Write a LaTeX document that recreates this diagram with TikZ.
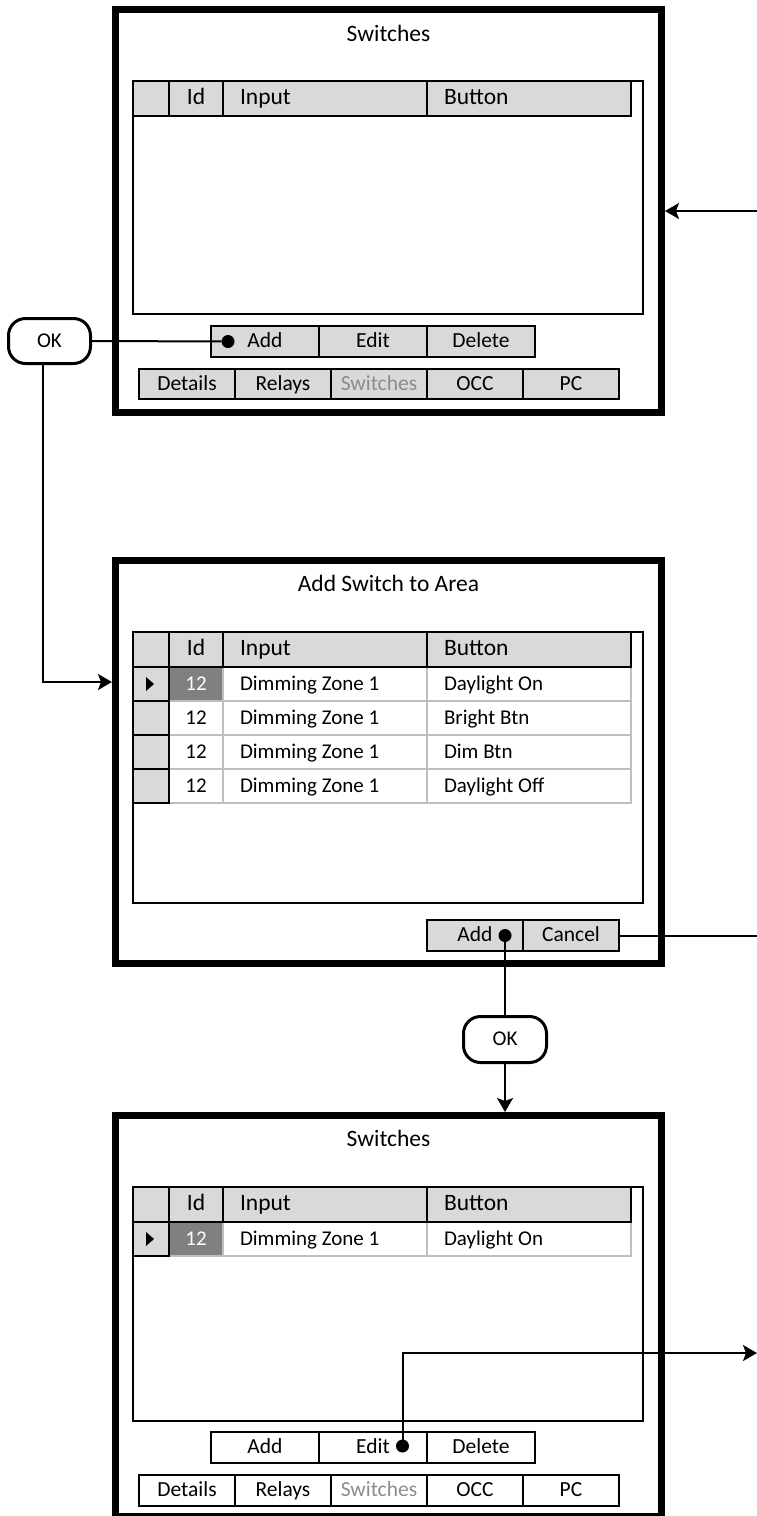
\documentclass[tikz,border=0pt]{standalone}
\usepackage{fontspec}
\setmainfont{Carlito}
\usetikzlibrary{arrows.meta,calc}
\definecolor{hdrgrey}{RGB}{217,217,217}
\definecolor{rowline}{RGB}{191,191,191}
\definecolor{selgrey}{RGB}{128,128,128}
\definecolor{offtext}{RGB}{140,140,140}

% name, x1, y1, x2, y2, style, text
\newcommand{\uirect}[7]{\node[#6, minimum width={(#4)-(#2)}, minimum height={(#5)-(#3)}] (#1) at ({((#2)+(#4))/2},{((#3)+(#5))/2}) {#7};}

\newcommand{\thead}[2]{%
 \uirect{#1h0}{133}{#2}{169}{(#2)+35}{hdr}{}
 \uirect{#1h1}{169}{#2}{223}{(#2)+35}{hdr}{Id}
 \uirect{#1h2}{223}{#2}{427}{(#2)+35}{hdr}{}
 \uirect{#1h3}{427}{#2}{631}{(#2)+35}{hdr}{}
 \node[txt,hdrfont] (#1h2t) at ([xshift=17pt]#1h2.west) {Input};
 \node[txt,hdrfont] (#1h3t) at ([xshift=17pt]#1h3.west) {Button};}

% prefix, ytop, idstyle, input, button
\newcommand{\trow}[5]{%
 \uirect{#1i}{169}{#2}{223}{(#2)+34}{#3}{12}
 \uirect{#1n}{223}{#2}{427}{(#2)+34}{cell}{}
 \uirect{#1b}{427}{#2}{631}{(#2)+34}{cell}{}
 \uirect{#1s}{133}{#2}{169}{(#2)+34}{sel}{}
 \node[txt,datafont] (#1nt) at ([xshift=17pt]#1n.west) {#4};
 \node[txt,datafont] (#1bt) at ([xshift=17pt]#1b.west) {#5};}

\tikzset{
 x=1pt, y=-1pt,
 base/.style={inner sep=0pt, outer sep=0pt, text height=16pt, text depth=4pt},
 frame/.style={base, draw, line width=7pt, outer sep=3.5pt},
 tabframe/.style={base, draw, line width=1.6pt},
 hdrfont/.style={font=\fontsize{23.5}{27}\selectfont},
 datafont/.style={font=\fontsize{21}{25}\selectfont},
 hdr/.style={base, draw, fill=hdrgrey, line width=1.8pt, hdrfont},
 sel/.style={base, draw, fill=hdrgrey, line width=1.8pt},
 cell/.style={base, draw=rowline, fill=white, line width=1.4pt, datafont},
 selcell/.style={cell, fill=selgrey, text=white},
 txt/.style={base, anchor=west},
 btn/.style={base, draw, fill=hdrgrey, line width=1.8pt, font=\fontsize{21.5}{25}\selectfont},
 wbtn/.style={btn, fill=white},
 offbtn/.style={btn, text=offtext},
 woffbtn/.style={wbtn, text=offtext},
 title/.style={base, font=\fontsize{23.5}{28}\selectfont},
 okbox/.style={base, draw, line width=3pt, outer sep=1.5pt, rounded corners=17pt, font=\fontsize{21}{25}\selectfont},
 dot/.style={circle, fill, inner sep=0pt, outer sep=0pt, minimum size=13pt},
 conn/.style={line width=2pt},
 arr/.style={conn, -{Stealth[length=14pt,width=16pt,inset=3pt]}},
}

\begin{document}
\begin{tikzpicture}
\useasboundingbox (0,0) rectangle (757,1516);

% ---------- Frame 1 ----------
\uirect{f1}{115.5}{9.5}{661.5}{412.5}{frame}{}
\node[title] (f1title) at (388.5,35) {Switches};
\uirect{f1tab}{133}{81}{643}{314}{tabframe}{}
\thead{f1}{81}
\uirect{f1add}{211}{326}{319}{357}{btn}{Add}
\uirect{f1edit}{319}{326}{427}{357}{btn}{Edit}
\uirect{f1del}{427}{326}{535}{357}{btn}{Delete}
\uirect{f1t1}{139}{369}{235}{399}{btn}{Details}
\uirect{f1t2}{235}{369}{331}{399}{btn}{Relays}
\uirect{f1t3}{331}{369}{427}{399}{offbtn}{Switches}
\uirect{f1t4}{427}{369}{523}{399}{btn}{OCC}
\uirect{f1t5}{523}{369}{619}{399}{btn}{PC}
\node[dot] (dot1) at (228,341.5) {};

% ---------- OK 1 ----------
\uirect{ok1}{8.5}{318.5}{90.5}{363.5}{okbox}{OK}

% ---------- Frame 2 ----------
\uirect{f2}{115.5}{560.5}{661.5}{963.5}{frame}{}
\node[title] (f2title) at (388.5,585) {Add Switch to Area};
\uirect{f2tab}{133}{632}{643}{903}{tabframe}{}
\trow{f2r1}{667}{selcell}{Dimming Zone 1}{Daylight On}
\trow{f2r2}{701}{cell}{Dimming Zone 1}{Bright Btn}
\trow{f2r3}{735}{cell}{Dimming Zone 1}{Dim Btn}
\trow{f2r4}{769}{cell}{Dimming Zone 1}{Daylight Off}
\fill (146,677) -- (154,684) -- (146,691) -- cycle;
\thead{f2}{632}
\uirect{f2add}{427}{920}{523}{951}{btn}{Add}
\uirect{f2cancel}{523}{920}{619}{951}{btn}{Cancel}
\node[dot] (dot2) at (505,935.5) {};

% ---------- OK 2 ----------
\uirect{ok2}{463.5}{1016.5}{546.5}{1062.5}{okbox}{OK}

% ---------- Frame 3 ----------
\uirect{f3}{115.5}{1115.5}{661.5}{1516.5}{frame}{}
\node[title] (f3title) at (388.5,1140) {Switches};
\uirect{f3tab}{133}{1187}{643}{1421}{tabframe}{}
\trow{f3r1}{1222}{selcell}{Dimming Zone 1}{Daylight On}
\fill (146,1232) -- (154,1239) -- (146,1246) -- cycle;
\thead{f3}{1187}
\uirect{f3add}{211}{1432}{319}{1463}{wbtn}{Add}
\uirect{f3edit}{319}{1432}{427}{1463}{wbtn}{Edit}
\uirect{f3del}{427}{1432}{535}{1463}{wbtn}{Delete}
\uirect{f3t1}{139}{1475}{235}{1506}{wbtn}{Details}
\uirect{f3t2}{235}{1475}{331}{1506}{wbtn}{Relays}
\uirect{f3t3}{331}{1475}{427}{1506}{woffbtn}{Switches}
\uirect{f3t4}{427}{1475}{523}{1506}{wbtn}{OCC}
\uirect{f3t5}{523}{1475}{619}{1506}{wbtn}{PC}
\node[dot] (dot3) at (402.5,1446) {};

% ---------- connectors ----------
\coordinate (t1) at (43,682);
\coordinate (r1) at (757,211);
\coordinate (r2) at (757,935.5);
\coordinate (r3) at (757,1353);
\draw[conn] (ok1.east) -- (dot1);
\draw[arr] (ok1.south -| t1) -- (t1) -- (t1 -| f2.west);
\draw[arr] (r1) -- (r1 -| f1.east);
\draw[conn] (f2cancel.east) -- (r2);
\draw[conn] (dot2) -- (ok2.north);
\draw[arr] (ok2.south) -- (ok2.south |- f3.north);
\draw[arr] (dot3) -- (dot3 |- r3) -- (r3);
\end{tikzpicture}
\end{document}
